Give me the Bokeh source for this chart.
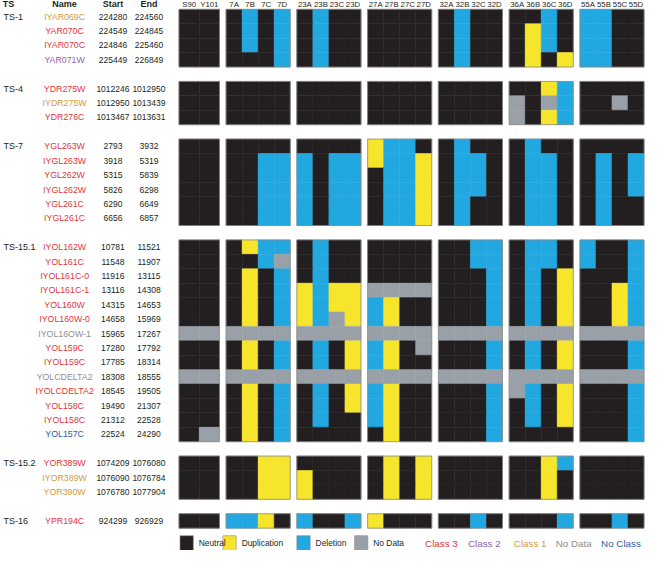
from bokeh.plotting import figure
from bokeh.models import Range1d, ColumnDataSource
from bokeh.core.properties import value
from bokeh.embed import file_html
from bokeh.resources import INLINE

# ---------------- data ----------------
strains = ["S90", "Y101", "7A", "7B", "7C", "7D", "23A", "23B", "23C", "23D",
           "27A", "27B", "27C", "27D", "32A", "32B", "32C", "32D",
           "36A", "36B", "36C", "36D", "55A", "55B", "55C", "55D"]
strain_group_sizes = [2, 4, 4, 4, 4, 4, 4]

ts_labels = ["TS-1", "TS-4", "TS-7", "TS-15.1", "TS-15.2", "TS-16"]

ts1_genes = ["IYAR069C", "YAR070C", "IYAR070C", "YAR071W"]
ts1_start = [224280, 224549, 224846, 225449]
ts1_end = [224560, 224845, 225460, 226849]
ts1_class = ["c1", "c3", "c3", "c2"]
ts1_calls = ["NN NLNL NLNN NNNN NLNN NNLN LLNN",
             "NN NLNL NLNN NNNN NLNN NDLN LLNN",
             "NN NLNL NLNN NNNN NLNN NDLN LLNN",
             "NN NNNL NLNN NNNN NLNN NDND LLNN"]

ts4_genes = ["YDR275W", "IYDR275W", "YDR276C"]
ts4_start = [1012246, 1012950, 1013467]
ts4_end = [1012950, 1013439, 1013631]
ts4_class = ["c3", "c1", "c3"]
ts4_calls = ["NN NNNN NNNN NNNN NNNN NNDL NNNN",
             "NN NNNN NNNN NNNN NNNN GNGL NNGN",
             "NN NNNN NNNN NNNN NNNN GNDL NNNN"]

ts7_genes = ["YGL263W", "IYGL263W", "YGL262W", "IYGL262W", "YGL261C", "IYGL261C"]
ts7_start = [2793, 3918, 5315, 5826, 6290, 6656]
ts7_end = [3932, 5319, 5839, 6298, 6649, 6857]
ts7_class = ["c3", "c3", "c3", "c3", "c3", "c3"]
ts7_calls = ["NN NNNN NNNN DLLN NLNN NLNN NNNN",
             "NN NNLL LNLL DLLD NLLN NLLN NLNL",
             "NN NNLL LNLL NLLD NLLN NLLN NLNL",
             "NN NNLL LNLL NLLD NLLN NLLN NLNL",
             "NN NNLL LNLL NLLD NLNN NLLN NLNN",
             "NN NNLL LNLL NLLD NLNN NLLN NLNN"]

ts151_genes = ["IYOL162W", "YOL161C", "IYOL161C-0", "IYOL161C-1", "YOL160W",
               "IYOL160W-0", "IYOL16OW-1", "YOL159C", "IYOL159C", "YOLCDELTA2",
               "IYOLCDELTA2", "YOL158C", "IYOL158C", "YOL157C"]
ts151_start = [10781, 11548, 11916, 13116, 14315, 14658, 15965, 17280, 17785,
               18308, 18545, 19490, 21312, 22524]
ts151_end = [11521, 11907, 13115, 14308, 14653, 15969, 17267, 17792, 18314,
             18555, 19505, 21307, 22528, 24290]
ts151_class = ["c3", "c3", "c3", "c3", "c3", "c3", "nd", "c3", "c3", "nd",
               "c3", "c3", "c3", "nc"]
ts151_calls = ["NN NDLL NLNN NNNN NNLL NLLN LNNL",
               "NN NNLG NLNN NNNN NNLL NLLN LNNL",
               "NN NDNL NLNN NNNN NNNL NLND NNNL",
               "NN NDNL DLDD GGGG NNNL NLND NNDL",
               "NN NDNL DLDD LDNN NNNL NLND NNDL",
               "NN NDNL DLGD LDNN NNNL NLND NNDL",
               "GG GGGG GGGG GGGG GGGG GGGG GGGG",
               "NN NDNL NLND LDNG NNNL NLND NNNL",
               "NN NDNL NLND LDNN NNNL NLND NNNL",
               "GG GGGG GGGG GGGG GGGG GGGG GGGG",
               "NN NDNL NLND LDNN NNNL GLND NNNL",
               "NN NDNL NLND LDNN NNNL NLND NNNL",
               "NN NDNL NLNN LDNN NNNL NLND NNNL",
               "NG NDNL NNNN NDNN NNNL NNNN NNNL"]

ts152_genes = ["YOR389W", "IYOR389W", "YOR390W"]
ts152_start = [1074209, 1076090, 1076780]
ts152_end = [1076080, 1076784, 1077904]
ts152_class = ["c3", "c1", "c1"]
ts152_calls = ["NN NNDD NNNN NDND NNNN NNDL NNNN",
               "NN NNDD DNNN NDND NNNN NNDN NNNN",
               "NN NNDD DNNN NDND NNNN NNDN NNNN"]

ts16_genes = ["YPR194C"]
ts16_start = [924299]
ts16_end = [926929]
ts16_class = ["c3"]
ts16_calls = ["NN LLDN LNNL DNNN NNLN NNNL NNLN"]

state_codes = ["N", "D", "L", "G"]
state_names = ["Neutral", "Duplication", "Deletion", "No Data"]
class_codes = ["c3", "c2", "c1", "nd", "nc"]
class_names = ["Class 3", "Class 2", "Class 1", "No Data", "No Class"]

# ---------------- styles ----------------
state_colors = {"N": "#231f20", "D": "#f7e52b", "L": "#22a8e0", "G": "#9aa0a7"}
class_colors = {"c3": "#e3353d", "c2": "#9160b1", "c1": "#d39c3c",
                "nd": "#8f8f8f", "nc": "#2a5ba8"}
TXT = "#231f20"
FONT = value("Liberation Sans")

blocks = [
    (ts1_genes, ts1_start, ts1_end, ts1_class, ts1_calls),
    (ts4_genes, ts4_start, ts4_end, ts4_class, ts4_calls),
    (ts7_genes, ts7_start, ts7_end, ts7_class, ts7_calls),
    (ts151_genes, ts151_start, ts151_end, ts151_class, ts151_calls),
    (ts152_genes, ts152_start, ts152_end, ts152_class, ts152_calls),
    (ts16_genes, ts16_start, ts16_end, ts16_class, ts16_calls),
]

# ---------------- layout ----------------
TOP = 11.0
ROW_H = 14.62
GAP = 6.75
X0 = 187.0
NAME_X, START_X, END_X = 71.0, 120.0, 156.5

col_left, col_w, group_span = [], [], []
x = X0
for gi, n in enumerate(strain_group_sizes):
    w = 20.5 if gi == 0 else 16.25
    group_span.append((x, x + n * w))
    for j in range(n):
        col_left.append(x + j * w)
        col_w.append(w)
    x += n * w + GAP

p = figure(width=645, height=550, x_range=Range1d(6, 660), y_range=Range1d(560, 2),
           output_backend="svg", toolbar_location=None, min_border=0)
p.axis.visible = False
p.grid.visible = False
p.outline_line_color = None

cell = dict(left=[], right=[], top=[], bottom=[], color=[])
outline = dict(left=[], right=[], top=[], bottom=[])
names = dict(x=[], y=[], text=[], color=[])
nums_s = dict(x=[], y=[], text=[])
nums_e = dict(x=[], y=[], text=[])
tsl = dict(x=[], y=[], text=[])

slot = 0
for bi, (genes, starts, ends, classes, calls) in enumerate(blocks):
    btop = TOP + slot * ROW_H
    for r, g in enumerate(genes):
        rt = btop + r * ROW_H
        cy = rt + ROW_H / 2
        codes = calls[r].replace(" ", "")
        for c, code in enumerate(codes):
            cell["left"].append(col_left[c])
            cell["right"].append(col_left[c] + col_w[c])
            cell["top"].append(rt)
            cell["bottom"].append(rt + ROW_H)
            cell["color"].append(state_colors[code])
        names["x"].append(NAME_X)
        names["y"].append(cy)
        names["text"].append(g)
        names["color"].append(class_colors[classes[r]])
        nums_s["x"].append(START_X); nums_s["y"].append(cy); nums_s["text"].append(str(starts[r]))
        nums_e["x"].append(END_X); nums_e["y"].append(cy); nums_e["text"].append(str(ends[r]))
    tsl["x"].append(9); tsl["y"].append(btop + ROW_H / 2); tsl["text"].append(ts_labels[bi])
    for (gl, gr) in group_span:
        outline["left"].append(gl); outline["right"].append(gr)
        outline["top"].append(btop); outline["bottom"].append(btop + len(genes) * ROW_H)
    slot += len(genes) + 1

p.quad(left="left", right="right", top="top", bottom="bottom", fill_color="color",
       line_color="color", line_width=0.5, source=ColumnDataSource(cell))
p.quad(left="left", right="right", top="top", bottom="bottom", fill_color=None,
       line_color="#8a8a8a", line_width=0.8, source=ColumnDataSource(outline))

p.text(x="x", y="y", text="text", text_color="color", text_font=FONT,
       text_font_size="8.8px", text_align="center", text_baseline="middle",
       source=ColumnDataSource(names))
p.text(x="x", y="y", text="text", text_color=TXT, text_font=FONT,
       text_font_size="8.5px", text_align="center", text_baseline="middle",
       source=ColumnDataSource(nums_s))
p.text(x="x", y="y", text="text", text_color=TXT, text_font=FONT,
       text_font_size="8.5px", text_align="center", text_baseline="middle",
       source=ColumnDataSource(nums_e))
p.text(x="x", y="y", text="text", text_color=TXT, text_font=FONT,
       text_font_size="9px", text_align="left", text_baseline="middle",
       source=ColumnDataSource(tsl))

# header
HY = 5.8
p.text(x=[14, NAME_X, START_X, END_X], y=[HY] * 4, text=["TS", "Name", "Start", "End"],
       text_color=TXT, text_font=FONT, text_font_style="bold", text_font_size="9px",
       text_align="center", text_baseline="middle")
p.text(x=[l + w / 2 for l, w in zip(col_left, col_w)], y=[HY] * len(strains), text=strains,
       text_color=TXT, text_font=FONT, text_font_size="7.8px",
       text_align="center", text_baseline="middle")

# legend
LY = 552.5
sq_left = [188, 231.5, 306.5, 365]
p.quad(left=sq_left, right=[v + 13.5 for v in sq_left], top=[LY - 7.5] * 4,
       bottom=[LY + 7.5] * 4, fill_color=[state_colors[s] for s in state_codes],
       line_color="#8a8a8a", line_width=0.6)
p.text(x=[v + 19 for v in sq_left], y=[LY] * 4, text=state_names, text_color=TXT,
       text_font=FONT, text_font_size="8.4px", text_align="left", text_baseline="middle")
p.text(x=[436.5, 480, 526.5, 569, 615], y=[LY] * 5, text=class_names,
       text_color=[class_colors[c] for c in class_codes], text_font=FONT,
       text_font_size="9.8px", text_align="left", text_baseline="middle")

open("out.html", "w").write(file_html(p, INLINE))
